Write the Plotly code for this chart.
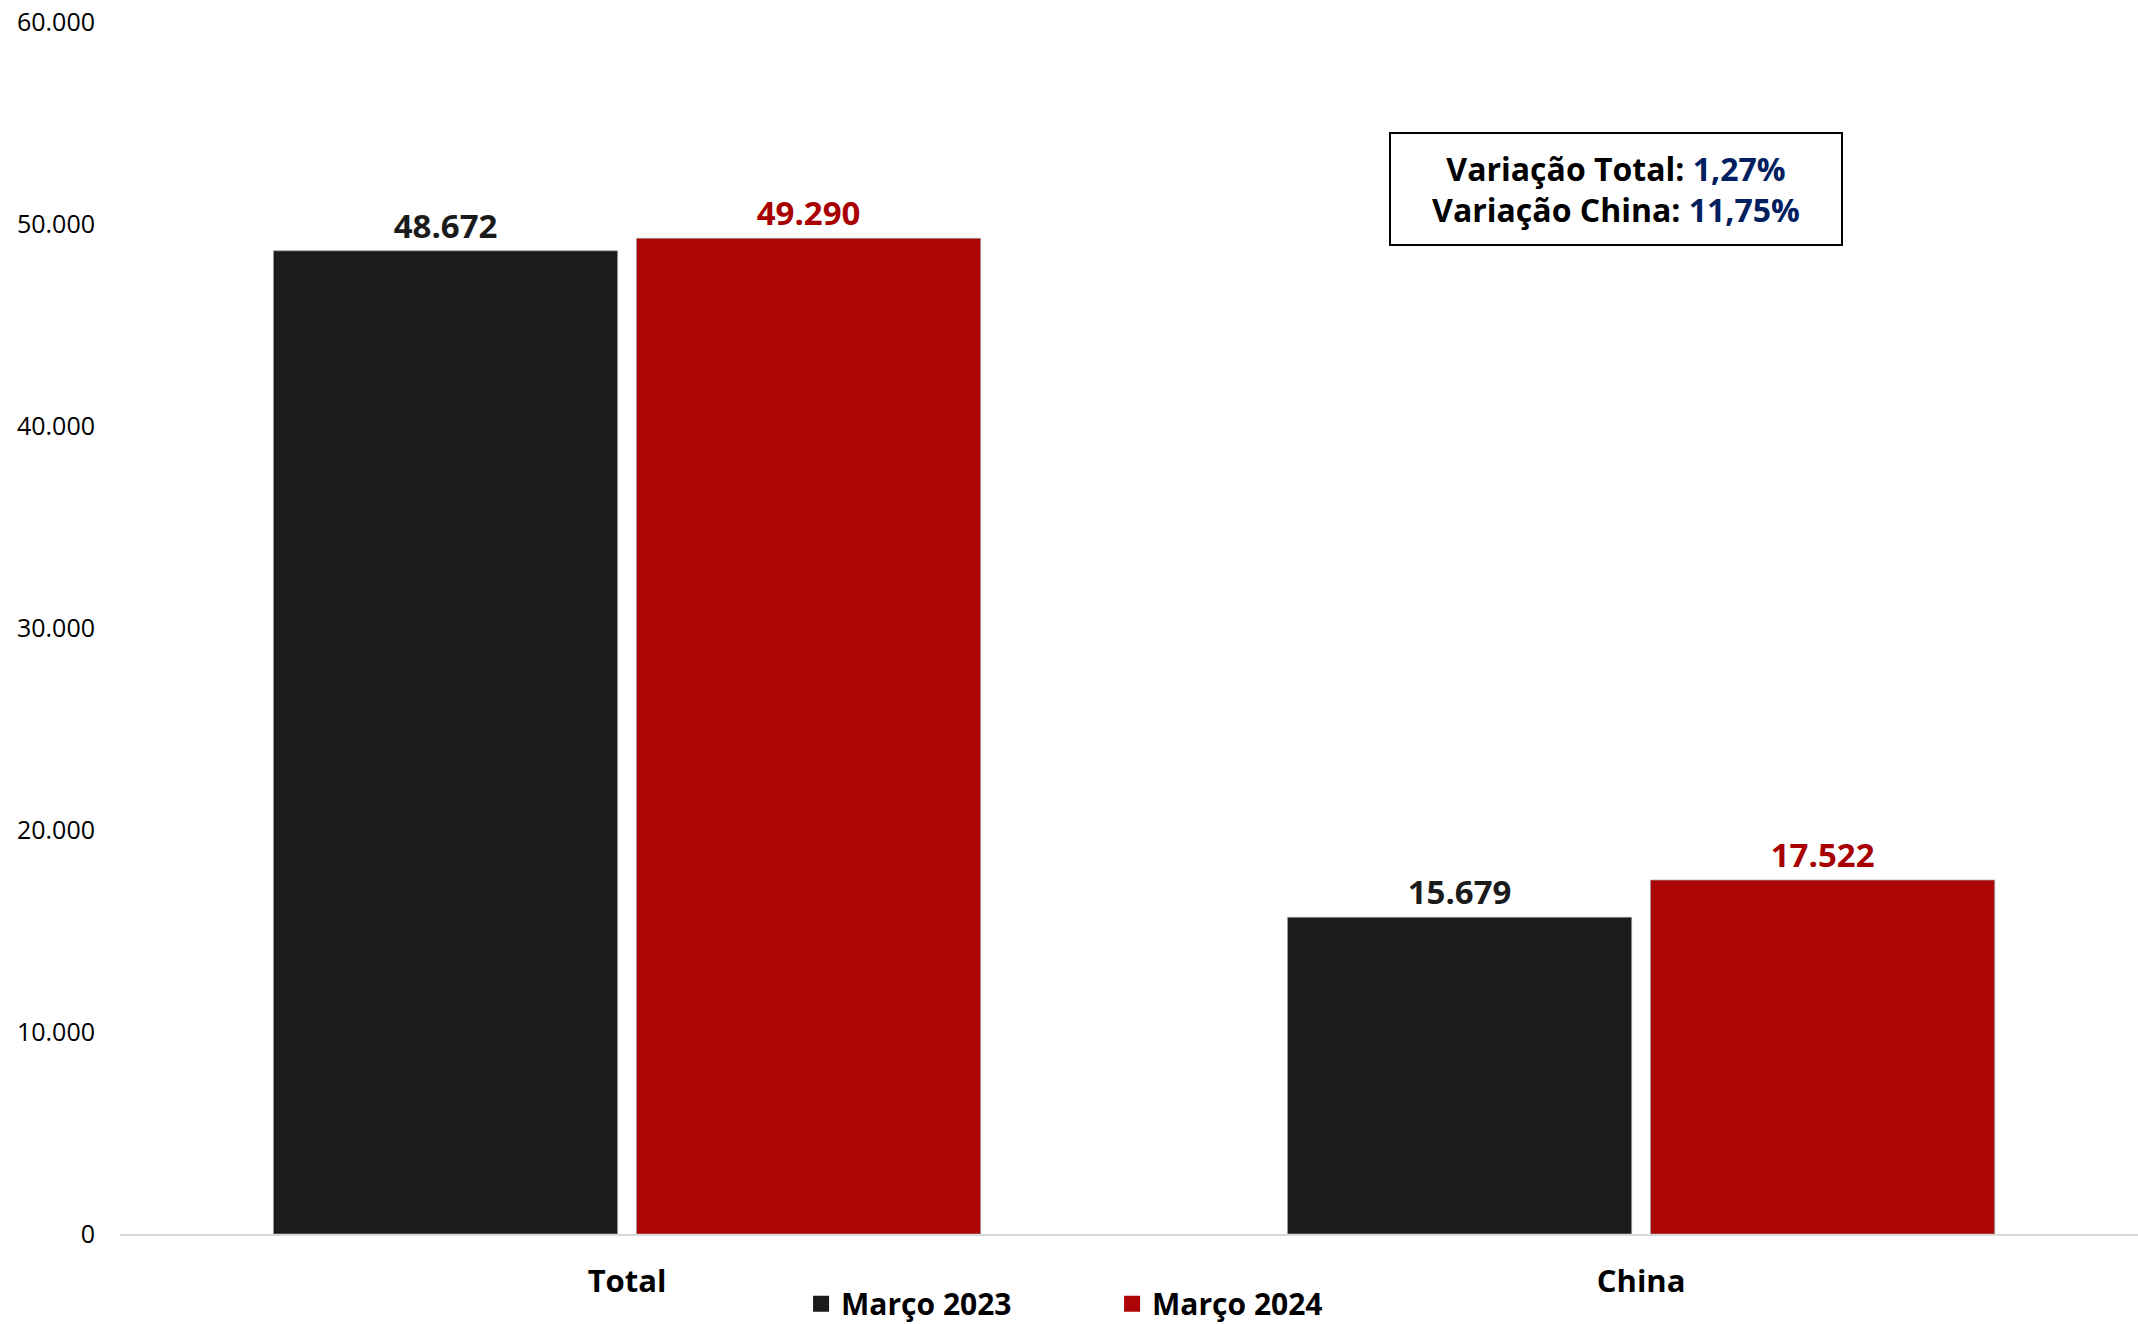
import plotly.graph_objects as go

categories = ["Total", "China"]
series_names = ["Março 2023", "Março 2024"]
values_2023 = [48672, 15679]
values_2024 = [49290, 17522]
bar_colors = ["#1b1b1b", "#ab0505"]
label_colors = ["#1b1b1b", "#a80000"]
y_ticks = [0, 10000, 20000, 30000, 40000, 50000, 60000]
var_total = "1,27%"
var_china = "11,75%"

FONT = "Open Sans"

fig = go.Figure()
for name, vals, col, lcol in zip(series_names, [values_2023, values_2024], bar_colors, label_colors):
    fig.add_trace(go.Bar(
        x=categories, y=vals, name=name, legendgroup=name, showlegend=False,
        marker=dict(color=col, line=dict(color="rgba(160,160,160,0.7)", width=1)),
        text=vals, texttemplate="%{y:,d}", textposition="outside",
        textfont=dict(family=FONT, size=33, color=lcol, weight="bold"),
        cliponaxis=False,
    ))
# legend entries with larger square swatches
for name, col in zip(series_names, bar_colors):
    fig.add_trace(go.Scatter(
        x=[None], y=[None], mode="markers", name=name, legendgroup=name,
        marker=dict(symbol="square", size=21, color=col), showlegend=True,
    ))

fig.update_layout(
    width=2138, height=1324,
    margin=dict(l=120, r=0, t=22, b=90, autoexpand=False),
    paper_bgcolor="white", plot_bgcolor="white",
    separators=",.",
    barmode="group", bargap=0.284, bargroupgap=0.052,
    font=dict(family=FONT, color="#000000"),
    showlegend=True,
    legend=dict(
        orientation="h", x=0.3375, xanchor="left", y=-0.0575, yanchor="middle",
        font=dict(family=FONT, size=30, color="#000000", weight="bold"),
        entrywidth=266, bgcolor="rgba(0,0,0,0)", itemsizing="trace",
    ),
    xaxis=dict(
        type="category", range=[-0.5, 1.49],
        showline=True, linecolor="#d9d9d9", linewidth=2,
        showgrid=False, ticks="", zeroline=False,
        tickfont=dict(family=FONT, size=31, color="#000000", weight="bold"),
        ticklabelstandoff=19,
    ),
    yaxis=dict(
        range=[0, 60000], tickvals=y_ticks, tickformat=",d",
        showgrid=False, zeroline=False, showline=False, ticks="",
        tickfont=dict(family=FONT, size=25, color="#000000"),
        ticklabelstandoff=24, ticklabeloverflow="allow",
    ),
)

fig.add_annotation(
    xref="paper", yref="paper", x=0.7413, y=0.862, xanchor="center", yanchor="middle",
    text=(f"<b>Variação Total: <span style='color:#002060'>{var_total}</span></b><br>"
          f"<b>Variação China: <span style='color:#002060'>{var_china}</span></b>"),
    showarrow=False, align="center",
    font=dict(family=FONT, size=32, color="#000000"),
    bordercolor="#000000", borderwidth=2, borderpad=2, bgcolor="white",
    width=446, height=106,
)

fig.write_html("out.html", config={"displayModeBar": False},
               post_script="document.body.style.margin='0';")
